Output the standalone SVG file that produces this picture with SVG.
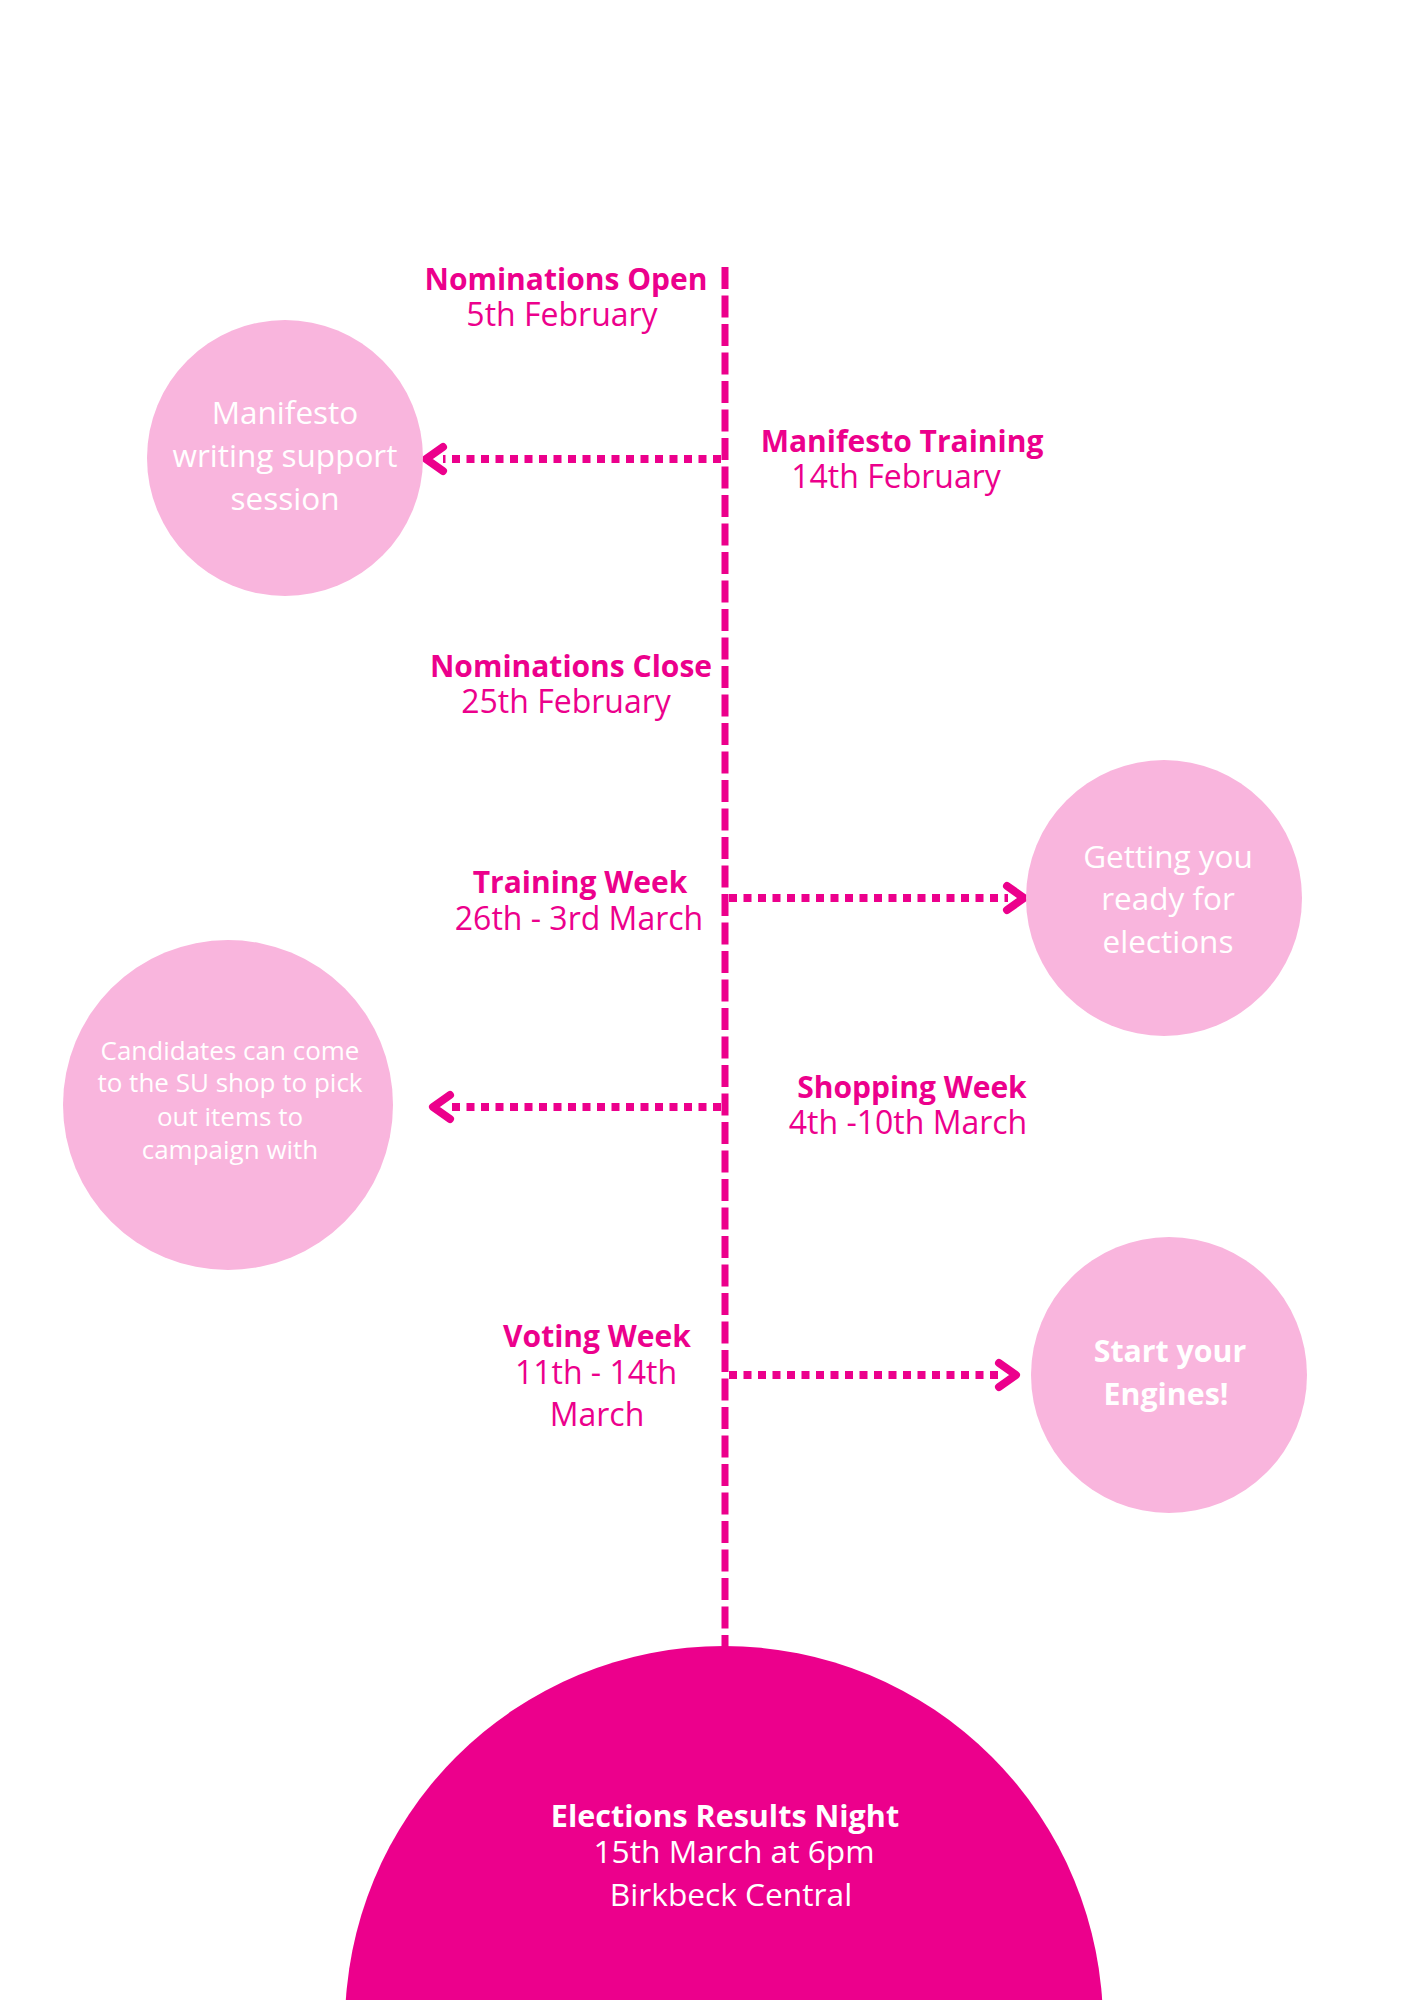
<svg xmlns="http://www.w3.org/2000/svg" width="1414" height="2000" viewBox="0 0 1414 2000">
<style>
text{font-family:"Open Sans","Noto Sans","Liberation Sans",sans-serif;text-anchor:middle}
.lbl{fill:#EC008C}
.h{font-weight:700;font-size:30px}
.d{font-weight:400;font-size:32px}
.cw{font-weight:400;font-size:31.5px;fill:#FFFFFF}
.cs{font-weight:400;font-size:26px;fill:#FFFFFF}
.cb{font-weight:700;font-size:30.3px;fill:#FFFFFF}
.wt{fill:#FFFFFF}
.bb{font-weight:700;font-size:30.5px}
.br{font-weight:400;font-size:31.7px}
.bub{fill:#F9B5DD}
.dot{stroke:#EC008C;stroke-width:8;stroke-dasharray:8 6.5;fill:none}
.chev{stroke:#EC008C;stroke-width:8;fill:none;stroke-linecap:round;stroke-linejoin:round}
.spine{stroke:#EC008C;stroke-width:7;stroke-dasharray:22 6.5;fill:none}
</style>
<rect width="1414" height="2000" fill="#FFFFFF"/>
<g id="connectors">
<line class="spine" x1="725" y1="267" x2="725" y2="1650"/>
<line class="dot" x1="721" y1="459" x2="443" y2="459"/>
<polyline class="chev" points="443,447 426,459 443,471"/>
<line class="dot" x1="729" y1="898" x2="1008" y2="898"/>
<polyline class="chev" points="1007,886 1024,898 1007,910"/>
<line class="dot" x1="721" y1="1107" x2="450" y2="1107"/>
<polyline class="chev" points="450,1095 433,1107 450,1119"/>
<line class="dot" x1="729" y1="1375" x2="999" y2="1375"/>
<polyline class="chev" points="999,1363 1016,1375 999,1387"/>
</g>
<g id="nominations-open">
<text class="lbl"><tspan class="h" x="566" y="290">Nominations Open</tspan><tspan class="d" x="562" y="326">5th February</tspan></text>
</g>
<g id="manifesto-training">
<text class="lbl"><tspan class="h" x="902" y="452">Manifesto Training</tspan><tspan class="d" x="896" y="488">14th February</tspan></text>
</g>
<g id="nominations-close">
<text class="lbl"><tspan class="h" x="571" y="677">Nominations Close</tspan><tspan class="d" x="566" y="713">25th February</tspan></text>
</g>
<g id="training-week">
<text class="lbl"><tspan class="h" x="580" y="893">Training Week</tspan><tspan class="d" x="579" y="930">26th - 3rd March</tspan></text>
</g>
<g id="shopping-week">
<text class="lbl"><tspan class="h" x="912" y="1098">Shopping Week</tspan><tspan class="d" x="908" y="1134">4th -10th March</tspan></text>
</g>
<g id="voting-week">
<text class="lbl"><tspan class="h" x="597" y="1347">Voting Week</tspan><tspan class="d" x="596" y="1384">11th - 14th</tspan><tspan class="d" x="597" y="1426">March</tspan></text>
</g>
<g id="manifesto-support">
<circle class="bub" cx="285" cy="458" r="138"/>
<text class="cw"><tspan x="285" y="424">Manifesto</tspan><tspan x="285" y="467">writing support</tspan><tspan x="285" y="510">session</tspan></text>
</g>
<g id="getting-ready">
<circle class="bub" cx="1164" cy="898" r="138"/>
<text class="cw"><tspan x="1168" y="868">Getting you</tspan><tspan x="1168" y="910">ready for</tspan><tspan x="1168" y="953">elections</tspan></text>
</g>
<g id="su-shop">
<circle class="bub" cx="228" cy="1105" r="165"/>
<text class="cs"><tspan x="230" y="1060">Candidates can come</tspan><tspan x="230" y="1092">to the SU shop to pick</tspan><tspan x="230" y="1126">out items to</tspan><tspan x="230" y="1159">campaign with</tspan></text>
</g>
<g id="start-engines">
<circle class="bub" cx="1169" cy="1375" r="138"/>
<text class="cb"><tspan x="1170" y="1362">Start your</tspan><tspan x="1166" y="1405">Engines!</tspan></text>
</g>
<g id="results-night">
<circle cx="724" cy="2025" r="379" fill="#EC008C"/>
<text class="wt"><tspan class="bb" x="725" y="1827">Elections Results Night</tspan><tspan class="br" x="734" y="1863">15th March at 6pm</tspan><tspan class="br" x="731" y="1906">Birkbeck Central</tspan></text>
</g>
</svg>
